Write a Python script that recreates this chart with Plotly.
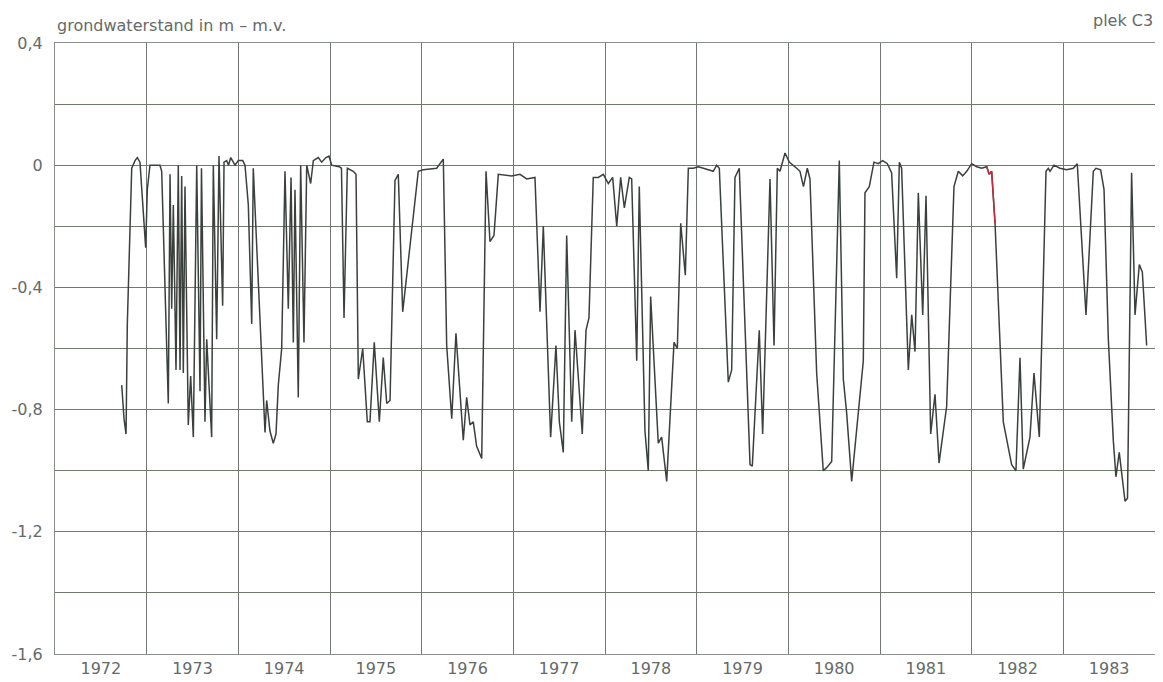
import plotly.graph_objects as go

# decimal year and groundwater level (m relative to surface, "m - m.v.")
years = [
    1972.728, 1972.753, 1972.775, 1972.789, 1972.837, 1972.873, 1972.898, 1972.927, 1972.989,
    1973.007, 1973.036, 1973.145, 1973.164, 1973.236, 1973.255, 1973.273, 1973.291, 1973.320,
    1973.345, 1973.364, 1973.382, 1973.400, 1973.418, 1973.454, 1973.480, 1973.509, 1973.546,
    1973.582, 1973.598, 1973.636, 1973.655, 1973.709, 1973.727, 1973.764, 1973.789, 1973.808,
    1973.829, 1973.844, 1973.873, 1973.893, 1973.917, 1973.964,
    1974.000, 1974.048, 1974.073, 1974.109, 1974.146, 1974.163, 1974.291, 1974.309, 1974.345,
    1974.381, 1974.411, 1974.436, 1974.473, 1974.509, 1974.545, 1974.575, 1974.600, 1974.618,
    1974.654, 1974.680, 1974.716, 1974.746, 1974.789, 1974.818, 1974.872, 1974.909, 1974.956,
    1974.989,
    1975.018, 1975.101, 1975.125, 1975.153, 1975.189, 1975.254, 1975.284, 1975.309, 1975.357,
    1975.407, 1975.436, 1975.483, 1975.538, 1975.581, 1975.619, 1975.655, 1975.709, 1975.745,
    1975.793, 1975.963,
    1976.018, 1976.164, 1976.236, 1976.273, 1976.328, 1976.374, 1976.454, 1976.491, 1976.527,
    1976.563, 1976.600, 1976.655, 1976.702, 1976.745, 1976.789, 1976.836, 1976.982,
    1977.073, 1977.146, 1977.236, 1977.291, 1977.327, 1977.407, 1977.465, 1977.502, 1977.545,
    1977.582, 1977.637, 1977.673, 1977.752, 1977.793, 1977.825, 1977.872, 1977.927, 1977.982,
    1978.036, 1978.084, 1978.128, 1978.171, 1978.211, 1978.265, 1978.291, 1978.346, 1978.374,
    1978.436, 1978.472, 1978.498, 1978.581, 1978.618, 1978.673, 1978.753, 1978.789, 1978.826,
    1978.876, 1978.909, 1978.963,
    1979.018, 1979.073, 1979.127, 1979.181, 1979.218, 1979.247, 1979.345, 1979.382, 1979.418,
    1979.465, 1979.582, 1979.607, 1979.683, 1979.720, 1979.800, 1979.844, 1979.880, 1979.909,
    1979.964,
    1980.010, 1980.091, 1980.127, 1980.165, 1980.207, 1980.236, 1980.309, 1980.381, 1980.418,
    1980.473, 1980.556, 1980.600, 1980.636, 1980.691, 1980.818, 1980.836, 1980.883, 1980.934,
    1980.981,
    1981.029, 1981.080, 1981.127, 1981.182, 1981.211, 1981.236, 1981.309, 1981.346, 1981.382,
    1981.418, 1981.466, 1981.502, 1981.553, 1981.600, 1981.644, 1981.727, 1981.807, 1981.854,
    1981.902, 1981.946,
    1982.000, 1982.055, 1982.109, 1982.164, 1982.192, 1982.218, 1982.255, 1982.309, 1982.345,
    1982.436, 1982.483, 1982.527, 1982.563, 1982.636, 1982.680, 1982.738, 1982.811, 1982.836,
    1982.855, 1982.898, 1982.963,
    1983.036, 1983.109, 1983.152, 1983.247, 1983.327, 1983.356, 1983.407, 1983.444, 1983.491,
    1983.545, 1983.574, 1983.610, 1983.673, 1983.700, 1983.745, 1983.782, 1983.829, 1983.862,
    1983.909,
]

levels = [
    -0.72, -0.83, -0.88, -0.52, -0.01, 0.015, 0.025, 0.01, -0.27,
    -0.08, 0.0, 0.0, -0.02, -0.78, -0.03, -0.47, -0.13, -0.67,
    0.0, -0.67, -0.035, -0.68, -0.07, -0.85, -0.69, -0.89, 0.0,
    -0.74, -0.01, -0.84, -0.57, -0.89, 0.0, -0.57, 0.03, -0.20,
    -0.46, 0.01, 0.015, 0.0, 0.025, 0.0,
    0.015, 0.015, 0.0, -0.13, -0.52, -0.01, -0.875, -0.77, -0.87,
    -0.91, -0.88, -0.72, -0.60, -0.02, -0.47, -0.04, -0.58, -0.08,
    -0.76, 0.0, -0.58, 0.0, -0.06, 0.015, 0.025, 0.01, 0.025,
    0.03,
    0.0, -0.005, -0.01, -0.50, -0.01, -0.02, -0.03, -0.70, -0.60,
    -0.84, -0.84, -0.58, -0.84, -0.63, -0.78, -0.77, -0.05, -0.03,
    -0.48, -0.02,
    -0.015, -0.01, 0.02, -0.59, -0.83, -0.55, -0.90, -0.76, -0.85,
    -0.84, -0.92, -0.96, -0.02, -0.25, -0.23, -0.03, -0.035,
    -0.03, -0.045, -0.04, -0.48, -0.20, -0.89, -0.59, -0.84, -0.94,
    -0.23, -0.84, -0.54, -0.88, -0.54, -0.50, -0.04, -0.04, -0.03,
    -0.06, -0.04, -0.20, -0.04, -0.14, -0.04, -0.045, -0.64, -0.07,
    -0.87, -1.00, -0.43, -0.91, -0.89, -1.035, -0.58, -0.60, -0.19,
    -0.36, -0.01, -0.01,
    -0.005, -0.01, -0.015, -0.02, 0.0, -0.01, -0.71, -0.67, -0.04,
    -0.01, -0.98, -0.985, -0.54, -0.88, -0.045, -0.59, -0.01, -0.02,
    0.04,
    0.01, -0.01, -0.02, -0.07, -0.01, -0.045, -0.68, -1.00, -0.99,
    -0.97, 0.015, -0.70, -0.81, -1.035, -0.64, -0.09, -0.07, 0.01,
    0.005,
    0.015, 0.005, -0.025, -0.37, 0.01, -0.01, -0.67, -0.49, -0.61,
    -0.09, -0.49, -0.10, -0.88, -0.75, -0.975, -0.79, -0.07, -0.02,
    -0.035, -0.02,
    0.005, -0.005, -0.01, -0.005, -0.03, -0.02, -0.19, -0.57, -0.84,
    -0.98, -1.00, -0.63, -0.995, -0.89, -0.68, -0.89, -0.02, -0.01,
    -0.02, 0.0, -0.01,
    -0.015, -0.01, 0.005, -0.49, -0.02, -0.01, -0.015, -0.08, -0.57,
    -0.90, -1.02, -0.94, -1.10, -1.09, -0.025, -0.49, -0.325, -0.35,
    -0.59,
]

# short stretch drawn in red in the original (late 1982)
red_start, red_end = 1982.164, 1982.255

year_labels = [str(y) for y in range(1972, 1984)]
year_label_pos = [y + 0.5 for y in range(1972, 1984)]
y_tick_vals = [0.4, 0.0, -0.4, -0.8, -1.2, -1.6]
y_tick_text = ["0,4", "0", "-0,4", "-0,8", "-1,2", "-1,6"]

red_x = [x for x in years if red_start <= x <= red_end]
red_y = [v for x, v in zip(years, levels) if red_start <= x <= red_end]

fig = go.Figure()
fig.add_trace(go.Scatter(
    x=years, y=levels, mode="lines",
    line=dict(color="#3b403d", width=1.5),
    hoverinfo="skip", showlegend=False,
))
fig.add_trace(go.Scatter(
    x=red_x, y=red_y, mode="lines",
    line=dict(color="#c8283a", width=1.5),
    hoverinfo="skip", showlegend=False,
))

font_family = "DejaVu Sans, Verdana, sans-serif"
text_color = "#656a67"

fig.update_layout(
    # the page body adds an 8px offset; size and margins compensate for it
    width=1155, height=674,
    margin=dict(l=47, r=8, t=35, b=28),
    paper_bgcolor="white", plot_bgcolor="white",
    font=dict(family=font_family, size=16, color=text_color),
    xaxis=dict(
        range=[1972, 1984], automargin=False,
        tickmode="array", tickvals=year_label_pos, ticktext=year_labels,
        showgrid=False, ticks="", zeroline=False,
        showline=True, linecolor="#8a8f8c", linewidth=1, mirror=True,
        tickfont=dict(size=16, color=text_color),
        minor=dict(tickmode="linear", tick0=1972, dtick=1, showgrid=True,
                   gridcolor="#737774", gridwidth=1, ticks=""),
    ),
    yaxis=dict(
        range=[-1.6, 0.4], automargin=False,
        tickmode="array", tickvals=y_tick_vals, ticktext=y_tick_text,
        showgrid=True, gridcolor="#6f7a6f", gridwidth=1,
        ticks="", zeroline=False, ticklabelstandoff=8,
        showline=True, linecolor="#8a8f8c", linewidth=1, mirror=True,
        tickfont=dict(size=16, color=text_color),
        minor=dict(tickmode="linear", tick0=0, dtick=0.2, showgrid=True,
                   gridcolor="#6f7a6f", gridwidth=1, ticks=""),
    ),
    annotations=[
        dict(text="grondwaterstand in m \u2013 m.v.", xref="paper", yref="paper",
             x=0, y=1, xanchor="left", yanchor="bottom", yshift=6, showarrow=False,
             font=dict(size=16, color=text_color)),
        dict(text="plek C3", xref="paper", yref="paper",
             x=1, y=1, xanchor="right", yanchor="bottom", yshift=11, showarrow=False,
             font=dict(size=16, color=text_color)),
    ],
)

fig.write_html("out.html")
